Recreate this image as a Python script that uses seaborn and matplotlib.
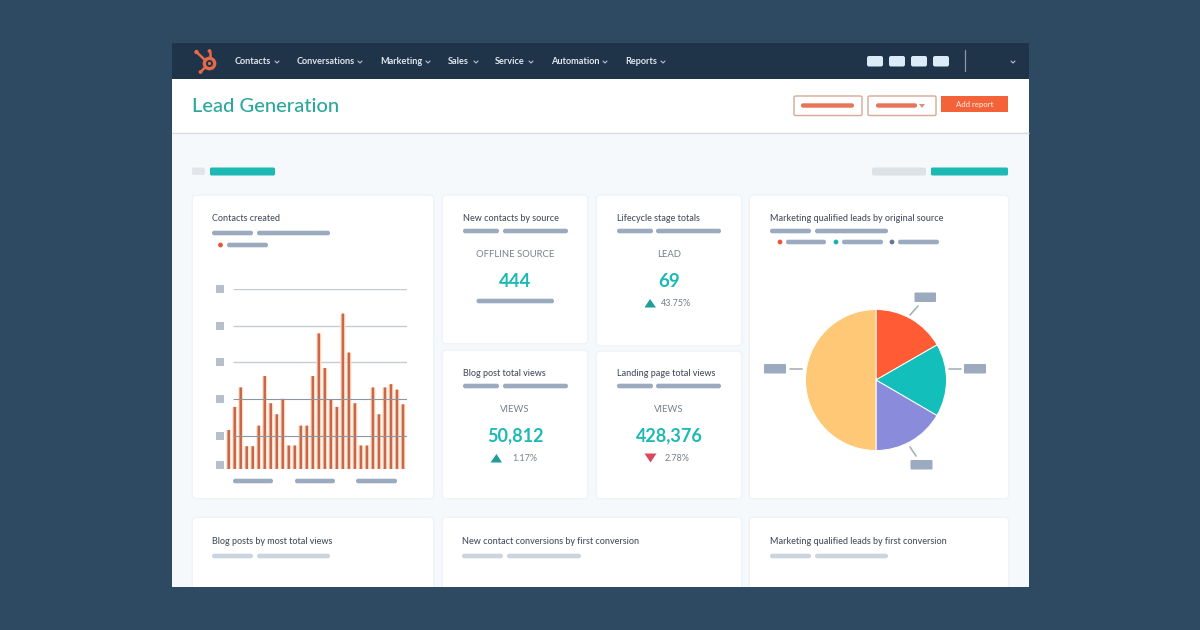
import matplotlib
matplotlib.use('Agg')
import matplotlib.pyplot as plt
from matplotlib.patches import FancyBboxPatch, Rectangle, Circle, Polygon
import pandas
import seaborn

# datos de la grafica
bar_days = list(range(30))
bar_values = [10.6, 16.9, 22.2, 6.2, 6.2, 11.8, 25.3, 17.9, 14.9, 19.1,
              6.4, 6.4, 11.8, 11.8, 25.3, 36.9, 27.5, 18.9, 16.9, 42.3,
              31.7, 17.9, 6.4, 6.4, 22.2, 14.9, 22.2, 23.1, 21.6, 17.6]
grid_values = [9, 19, 29, 39, 49]
tick_marks = [1, 9, 19, 29, 39, 49]
pie_values = [16.7, 16.7, 16.6, 50]
pie_colors = ['#ff5c35', '#13bfba', '#8a8cdb', '#fec876']
nav_labels = ['Contacts', 'Conversations', 'Marketing', 'Sales', 'Service', 'Automation', 'Reports']
nav_x = [235, 297, 380.5, 448, 495, 551, 625]
nav_chevron_x = [277, 360, 428, 476, 531, 605, 663]

DARK = '#2d4a62'
NAV = '#1f3349'
BODY = '#f5f9fc'
TEAL = '#1cb9b5'
PLACE = '#9baabf'
PLACE_LIGHT = '#ccd4de'
TXT = '#444e5c'
GREY = '#77808c'

seaborn.set_theme(style='white')
plt.rcParams['font.family'] = ['Lato', 'DejaVu Sans']
# seaborn pone borde blanco a todos los patches, aca no lo quiero
plt.rcParams['patch.force_edgecolor'] = False
plt.rcParams['patch.linewidth'] = 0

fig = plt.figure(figsize=(12, 6.3), dpi=100, facecolor=DARK)
# eje de fondo en pixeles, y para abajo
bg = fig.add_axes([0, 0, 1, 1])
bg.set_xlim(0, 1200)
bg.set_ylim(630, 0)
bg.axis('off')


def rect(x0, x1, y0, y1, color, round_px=0.0, edge='none', lw=0, z=2):
    if round_px > 0:
        p = FancyBboxPatch((x0 + round_px, y0 + round_px), x1 - x0 - 2 * round_px, y1 - y0 - 2 * round_px,
                           boxstyle='round,pad=%f,rounding_size=%f' % (round_px, round_px),
                           fc=color, ec=edge, lw=lw, zorder=z)
    else:
        p = Rectangle((x0, y0), x1 - x0, y1 - y0, fc=color, ec=edge, lw=lw, zorder=z)
    bg.add_patch(p)


def pill(x0, x1, y, color=PLACE, h=4.6):
    rect(x0, x1, y - h / 2, y + h / 2, color, round_px=h / 2 - 0.1, z=4)


def card(x0, x1, y0, y1):
    rect(x0 - 1.5, x1 + 1.5, y0 - 1.5, y1 + 1.5, '#f0f4f8', round_px=4, z=2)
    rect(x0, x1, y0, y1, 'white', round_px=3, z=3)


def label(x, y, s, size=6.45, color=TXT, ha='left', weight='medium'):
    bg.text(x, y + 0.7, s, fontsize=size, color=color, ha=ha, va='center', fontweight=weight, zorder=6)


def chevron(x, y, color='#b9c4d0'):
    bg.plot([x - 2, x, x + 2], [y - 1, y + 1, y - 1], color=color, lw=0.8, zorder=6)


# marco del dashboard
rect(172, 1029, 43, 600, BODY, z=1)
rect(172, 1029, 79, 132, 'white', z=1.5)
bg.plot([172, 1028.5], [132.5, 132.5], color='#d6dce7', lw=0.9, zorder=2, solid_capstyle='butt')
rect(172, 1029, 43, 79, NAV, z=2)

# logo
LOGO = '#e8694a'
bg.add_patch(Circle((209.5, 63.5), 5.2, fc='none', ec=LOGO, lw=2.4, zorder=5))
bg.add_patch(Circle((209.5, 63.5), 1.6, fc=LOGO, zorder=5))
bg.plot([197.5, 205], [53, 60], color=LOGO, lw=1.8, zorder=5)
bg.plot([209.5, 209.5], [52, 58], color=LOGO, lw=1.8, zorder=5)
bg.plot([201, 205], [71.5, 67.5], color=LOGO, lw=1.8, zorder=5)
bg.add_patch(Circle((196.5, 52), 2.2, fc=LOGO, zorder=5))
bg.add_patch(Circle((209.5, 51), 1.9, fc=LOGO, zorder=5))
bg.add_patch(Circle((200.5, 72), 1.9, fc=LOGO, zorder=5))

for name, x, cx in zip(nav_labels, nav_x, nav_chevron_x):
    label(x, 60.5, name, size=6.6, color='#dfe7ef', weight='bold')
    chevron(cx, 62)
for x0, x1 in [(867, 883), (889, 905), (911, 927), (933, 949)]:
    rect(x0, x1, 56, 66.5, '#dcebf8', round_px=2, z=5)
bg.plot([964.5, 964.5], [50, 71], color='#8a9aac', lw=0.9, zorder=5)
chevron(1013, 62)

# cabecera
label(192, 105.5, 'Lead Generation', size=14.5, color='#2ba89c', weight='medium')
rect(794, 862, 96, 115.5, 'white', round_px=1.5, edge='#d8a893', lw=1, z=3)
rect(868, 936, 96, 115.5, 'white', round_px=1.5, edge='#d8a893', lw=1, z=3)
pill(801, 854, 105.5, color='#e8745a', h=4.4)
pill(876, 917, 105.5, color='#e8745a', h=4.4)
bg.add_patch(Polygon([[919, 104], [925, 104], [922, 108]], fc='#d98f7c', zorder=4))
rect(941, 1008, 95.5, 112, '#f4623a', z=3)
label(974.5, 103.5, 'Add report', size=5.6, color='#ffe6dc', ha='center')

# tiras superiores
rect(192, 205, 167.5, 175, '#e2e6ea', round_px=2, z=3)
rect(210, 275, 167.5, 175.5, TEAL, round_px=1.5, z=3)
rect(872, 926, 167.5, 175.5, '#dde2e7', round_px=2, z=3)
rect(931, 1008, 167.5, 175.5, TEAL, round_px=1.5, z=3)

# tarjetas
card(193, 433, 196, 498)
card(443, 587, 196, 343)
card(597, 741, 196, 345)
card(443, 587, 351, 498)
card(597, 741, 352, 498)
card(750, 1008, 196, 498)
card(193, 433, 518, 620)
card(443, 741, 518, 620)
card(750, 1008, 518, 620)
# recorta las tarjetas de abajo
rect(172, 1029, 587, 630, DARK, z=5)
rect(0, 172, 500, 630, DARK, z=5)
rect(1029, 1200, 500, 630, DARK, z=5)

# tarjeta contactos
label(212, 218, 'Contacts created')
pill(212, 253, 233)
pill(257, 330, 233)
bg.add_patch(Circle((220.5, 245), 2.4, fc='#e8563a', zorder=5))
pill(227, 268, 245)
for x0, x1 in [(233, 273), (295, 335), (356, 397)]:
    pill(x0, x1, 481)

# tarjetas KPI
label(463, 218, 'New contacts by source')
pill(463, 499, 231)
pill(503, 568, 231)
label(515, 253.5, 'OFFLINE SOURCE', size=6.8, color=GREY, ha='center', weight='normal')
label(515, 280.5, '444', size=13.4, color=TEAL, ha='center', weight='bold')
pill(476.5, 554, 301)

label(617, 218, 'Lifecycle stage totals')
pill(617, 653, 231)
pill(656, 721, 231)
label(669, 253.5, 'LEAD', size=6.8, color=GREY, ha='center', weight='normal')
label(669, 280.5, '69', size=13.4, color=TEAL, ha='center', weight='bold')
bg.add_patch(Polygon([[644.5, 307.5], [656, 307.5], [650, 299]], fc='#1f9c9c', zorder=5))
label(661, 302.5, '43.75%', size=6.5, color=GREY, weight='normal')

label(463, 373, 'Blog post total views')
pill(463, 499, 386)
pill(503, 568, 386)
label(515, 408.5, 'VIEWS', size=6.8, color=GREY, ha='center', weight='normal')
label(515, 435.5, '50,812', size=13, color=TEAL, ha='center', weight='bold')
bg.add_patch(Polygon([[490.5, 462.5], [502, 462.5], [496.5, 454]], fc='#1f9c9c', zorder=5))
label(512, 457.5, '1.17%', size=6.5, color=GREY, weight='normal')

label(617, 373, 'Landing page total views')
pill(617, 653, 386)
pill(656, 721, 386)
label(669, 408.5, 'VIEWS', size=6.8, color=GREY, ha='center', weight='normal')
label(669, 435.5, '428,376', size=13, color=TEAL, ha='center', weight='bold')
bg.add_patch(Polygon([[644.5, 453.5], [656.5, 453.5], [650.5, 462.5]], fc='#d9485f', zorder=5))
label(664.5, 457.5, '2.78%', size=6.5, color=GREY, weight='normal')

# tarjeta del pie
label(770, 218, 'Marketing qualified leads by original source')
pill(770, 811, 231)
pill(815, 888, 231)
for dot_x, x0, x1, c in [(780, 786, 826, '#e8563a'), (836, 842, 883, '#1fb0a8'), (892, 898, 939, '#66788f')]:
    bg.add_patch(Circle((dot_x, 242), 2.4, fc=c, zorder=5))
    pill(x0, x1, 242)
for x0, x1, y0, y1 in [(914.5, 936, 292.5, 302), (964, 986, 364, 373.5), (764, 786, 364, 373.5), (910.5, 932.5, 460, 469.5)]:
    rect(x0, x1, y0, y1, PLACE, round_px=1, z=5)
for xs, ys in [((910, 918), (315, 306)), ((949, 961), (368.7, 368.7)), ((790, 802), (368.7, 368.7)), ((910, 916), (447, 456))]:
    bg.plot(xs, ys, color='#a9b1bb', lw=1.2, zorder=5)

# tarjetas de abajo
label(212, 541, 'Blog posts by most total views')
pill(212, 253, 556, PLACE_LIGHT)
pill(257, 330, 556, PLACE_LIGHT)
label(462, 541, 'New contact conversions by first conversion')
pill(462, 503, 556, PLACE_LIGHT)
pill(507, 581, 556, PLACE_LIGHT)
label(770, 541, 'Marketing qualified leads by first conversion')
pill(770, 811, 556, PLACE_LIGHT)
pill(815, 888, 556, PLACE_LIGHT)

# barras
bars = pandas.DataFrame({'day': bar_days, 'value': bar_values})
ax = fig.add_axes([225.7 / 1200, 1 - 469 / 630, (407 - 225.7) / 1200, (469 - 289) / 630])
ax.patch.set_alpha(0)
seaborn.barplot(data=bars, x='day', y='value', color='#fde0c4', saturation=1, width=0.82, linewidth=0, ax=ax, zorder=2)
seaborn.barplot(data=bars, x='day', y='value', color='#c9664d', saturation=1, width=0.42, linewidth=0, ax=ax, zorder=3)
# sin snap las barras quedan todas del mismo ancho
for bar in ax.patches:
    bar.set_snap(False)
ax.hlines(grid_values[:2], 0.75, 29.67, color='#8f959c', lw=0.8, zorder=4)
ax.hlines(grid_values[2:], 0.75, 29.67, color='#c3ccd2', lw=1, zorder=1.5)
ax.hlines(0, -0.5, 29.67, color='#d8d4cf', lw=0.8, zorder=4)
ax.scatter([-1.5] * len(tick_marks), tick_marks, marker='s', s=26, color='#b6bfca', clip_on=False, zorder=5, linewidths=0)
ax.set_xlim(-0.5, 29.67)
ax.set_ylim(0, 49)
ax.set_xlabel('')
ax.set_ylabel('')
ax.set_xticks([])
ax.set_yticks([])
seaborn.despine(ax=ax, left=True, bottom=True)

# pie
pie_ax = fig.add_axes([805.5 / 1200, 1 - 450.5 / 630, 141 / 1200, 141 / 630])
pie_ax.pie(pie_values, colors=pie_colors, startangle=90, counterclock=False, radius=1,
           wedgeprops={'edgecolor': 'white', 'linewidth': 0.7})
pie_ax.set_xlim(-1, 1)
pie_ax.set_ylim(-1, 1)

fig.savefig('out.png', dpi=100, facecolor=DARK)
